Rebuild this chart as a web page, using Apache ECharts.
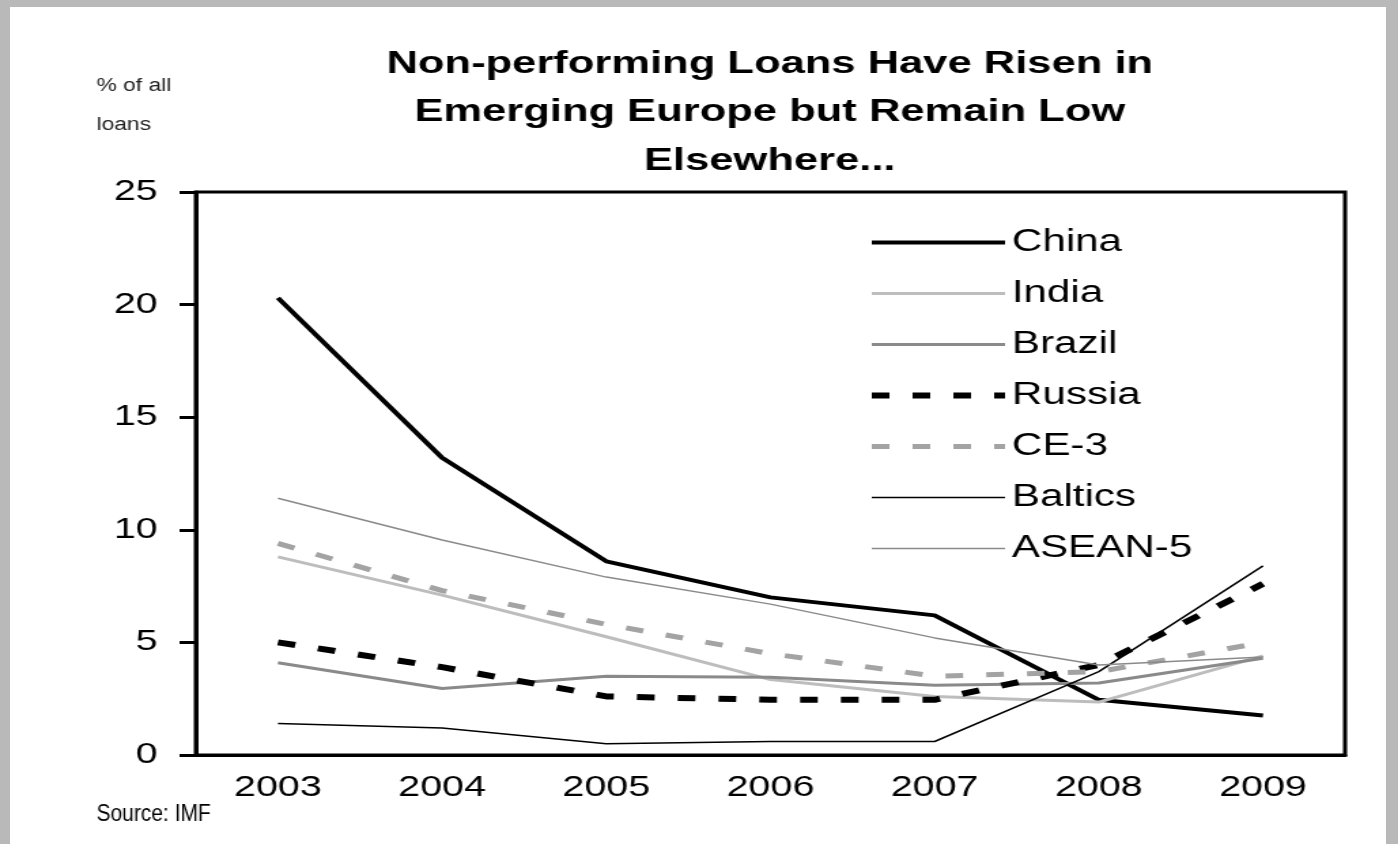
<!DOCTYPE html>
<html>
<head>
<meta charset="utf-8">
<script src="https://cdn.jsdelivr.net/npm/echarts@6/dist/echarts.min.js"></script>
<style>
  html, body { margin: 0; padding: 0; background: #b9b9b9; overflow: hidden; }
  #wrap { position: absolute; left: 0; top: 0; width: 1398px; height: 844px; }
  #panel { position: absolute; left: 10px; top: 7px; width: 1376px; height: 837px; background: #ffffff; }
  #chart { position: absolute; left: 0; top: 0; width: 1028px; height: 844px;
           transform: scaleX(1.36); transform-origin: 0 0; }
</style>
</head>
<body>
<div id="wrap">
  <div id="panel"></div>
  <div id="chart"></div>
</div>
<script>
// ---- data ----
const years = ['2003', '2004', '2005', '2006', '2007', '2008', '2009'];
const china   = [20.3, 13.2, 8.6, 7.0, 6.2, 2.45, 1.75];
const india   = [8.8, 7.1, 5.25, 3.35, 2.6, 2.35, 4.4];
const brazil  = [4.1, 2.95, 3.5, 3.45, 3.1, 3.2, 4.3];
const russia  = [5.0, 3.9, 2.6, 2.45, 2.45, 4.0, 7.6];
const ce3     = [9.4, 7.3, 5.8, 4.5, 3.5, 3.7, 5.0];
const baltics = [1.4, 1.2, 0.5, 0.6, 0.6, 3.7, 8.4];
const asean5  = [11.4, 9.55, 7.9, 6.7, 5.2, 4.0, 4.35];
const yTicks = { min: 0, max: 25, interval: 5 };

const titleLines = ['Non-performing Loans Have Risen in', 'Emerging Europe but Remain Low', 'Elsewhere...'];
const unitLines = ['% of all', 'loans'];
const sourceText = 'Source: IMF';

const FONT = '"Liberation Sans", Arial, sans-serif';

function mk(name, data, color, width, type) {
  return {
    name: name, type: 'line', data: data, symbol: 'none', showSymbol: false, smooth: false,
    lineStyle: { color: color, width: width, type: type || 'solid' },
    itemStyle: { color: color },
    emphasis: { disabled: true }, animation: false
  };
}

const chart = echarts.init(document.getElementById('chart'), null, { renderer: 'canvas' });
const graphics = [];
titleLines.forEach(function (t, i) {
  graphics.push({ type: 'text', x: 566, y: 64 + i * 48.5,
    style: { text: t, font: 'bold 32px ' + FONT, fill: '#000', textAlign: 'center', textVerticalAlign: 'middle' } });
});
unitLines.forEach(function (t, i) {
  graphics.push({ type: 'text', x: 71, y: 86 + i * 39, scaleX: 0.93,
    style: { text: t, font: '18px ' + FONT, fill: '#222', textAlign: 'left', textVerticalAlign: 'middle' } });
});
graphics.push({ type: 'text', x: 71, y: 815, scaleX: 0.67,
  style: { text: sourceText, font: '23px ' + FONT, fill: '#000', textAlign: 'left', textVerticalAlign: 'middle' } });

chart.setOption({
  animation: false,
  textStyle: { fontFamily: FONT },
  graphic: graphics,
  grid: { left: 144, right: 39, top: 192, bottom: 89, show: true, borderColor: '#000', borderWidth: 3, backgroundColor: 'transparent' },
  legend: {
    orient: 'vertical', left: 633, top: 222, itemWidth: 98, itemHeight: 14, itemGap: 20,
    itemStyle: { opacity: 0, borderWidth: 0 },
    lineStyle: { width: 'inherit', type: 'inherit', color: 'inherit' },
    textStyle: { fontSize: 31, color: '#000', fontFamily: FONT },
    data: ['China', 'India', 'Brazil', 'Russia', 'CE-3', 'Baltics', 'ASEAN-5']
  },
  xAxis: {
    type: 'category', data: years, boundaryGap: true,
    axisLine: { show: true, lineStyle: { color: '#000', width: 3 } },
    axisTick: { show: false },
    axisLabel: { fontSize: 29, color: '#000', margin: 18, fontFamily: FONT },
    splitLine: { show: false }
  },
  yAxis: {
    type: 'value', min: yTicks.min, max: yTicks.max, interval: yTicks.interval,
    axisLine: { show: true, lineStyle: { color: '#000', width: 3 } },
    axisTick: { show: true, inside: false, length: 12, lineStyle: { color: '#000', width: 3 } },
    axisLabel: { fontSize: 29, color: '#000', margin: 28, fontFamily: FONT },
    splitLine: { show: false }
  },
  series: [
    mk('China', china, '#000000', 4),
    mk('India', india, '#bdbdbd', 3),
    mk('Brazil', brazil, '#8a8a8a', 3),
    mk('Russia', russia, '#000000', 6, [13, 17]),
    mk('CE-3', ce3, '#a3a3a3', 5, [13, 17]),
    mk('Baltics', baltics, '#000000', 1.5),
    mk('ASEAN-5', asean5, '#8a8a8a', 1.5)
  ]
});
</script>
</body>
</html>
